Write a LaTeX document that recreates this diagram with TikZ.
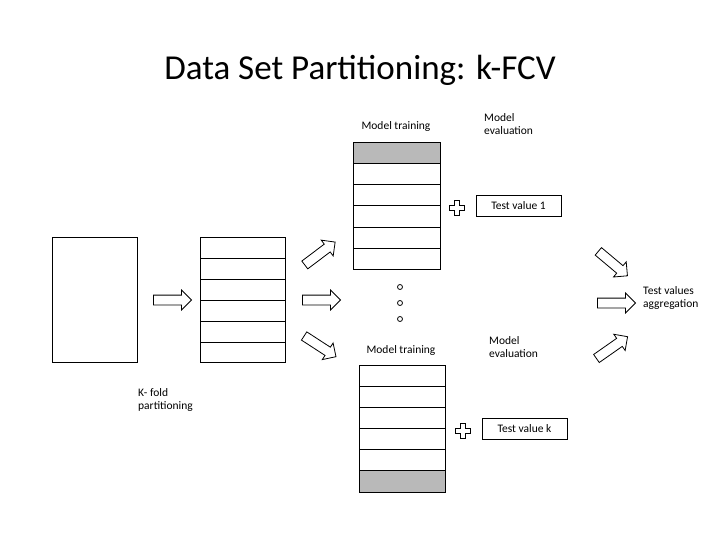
\documentclass[tikz,border=0pt]{standalone}
\usepackage{fontspec}
\setmainfont{Carlito}
\usetikzlibrary{shapes.arrows}

\begin{document}
\begin{tikzpicture}
  [x=1pt,y=-1pt,
   every node/.style={inner sep=0pt},
   lbl/.style={font=\fontsize{11.5}{13.5}\selectfont,align=left,anchor=west},
   bigarrow/.style={draw,thick,single arrow,inner sep=4.5pt,single arrow head extend=5pt,
                    minimum height=38pt,fill=white},
   block/.style={draw,thick},
   testbox/.style={draw,font=\fontsize{11.5}{13}\selectfont,minimum width=85pt,minimum height=21pt}]

  \useasboundingbox (0,0) rectangle (720,540);

  \node[font=\fontsize{35}{40}\selectfont] (title) at (360,70) {Data Set Partitioning: k-FCV};

  % whole data set and its folds
  \draw[block] (52,237) rectangle (137,362);
  \draw[block] (200,237) rectangle (285,362);
  \foreach \y in {258,279,300,321,342}
    \draw (200,\y) -- (285,\y);
  \node[lbl] (kfold) at (138,400) {K- fold\\partitioning};

  % first model
  \fill[gray!55] (353,142) rectangle (440,163);
  \draw[block] (353,142) rectangle (440,269);
  \foreach \y in {163,184,205,227,248}
    \draw (353,\y) -- (440,\y);
  \node[lbl,anchor=center] (train1) at (396,126) {Model training};
  \node[lbl] (eval1) at (484,124) {Model\\evaluation};
  \node[testbox] (test1) at (518.5,205.5) {Test value 1};

  % last model
  \fill[gray!55] (359,470) rectangle (445,492);
  \draw[block] (359,365) rectangle (445,492);
  \foreach \y in {386,407,428,449,470}
    \draw (359,\y) -- (445,\y);
  \node[lbl,anchor=center] (traink) at (401,350) {Model training};
  \node[lbl] (evalk) at (489,347) {Model\\evaluation};
  \node[testbox] (testk) at (524.5,428.5) {Test value k};

  % plus signs
  \foreach \px/\py in {457/208,463/431}
    \draw[thick] (\px-2.5,\py-7.5) -- (\px+2.5,\py-7.5) -- (\px+2.5,\py-2.5) -- (\px+7.5,\py-2.5)
      -- (\px+7.5,\py+2.5) -- (\px+2.5,\py+2.5) -- (\px+2.5,\py+7.5) -- (\px-2.5,\py+7.5)
      -- (\px-2.5,\py+2.5) -- (\px-7.5,\py+2.5) -- (\px-7.5,\py-2.5) -- (\px-2.5,\py-2.5) -- cycle;

  % dots
  \foreach \y in {287,303,319}
    \draw[thick] (400,\y) circle (2.5);

  % block arrows
  \node[bigarrow] (a0) at (170,300) {};
  \node[bigarrow,rotate=37]  (a1) at (318,255) {};
  \node[bigarrow]            (a2) at (319,300) {};
  \node[bigarrow,rotate=-33] (a3) at (318,345) {};
  \node[bigarrow,rotate=-40] (a4) at (611,262) {};
  \node[bigarrow]            (a5) at (614,303) {};
  \node[bigarrow,rotate=35]  (a6) at (610,349) {};

  \node[lbl] (agg) at (643,298) {Test values\\aggregation};
\end{tikzpicture}
\end{document}
